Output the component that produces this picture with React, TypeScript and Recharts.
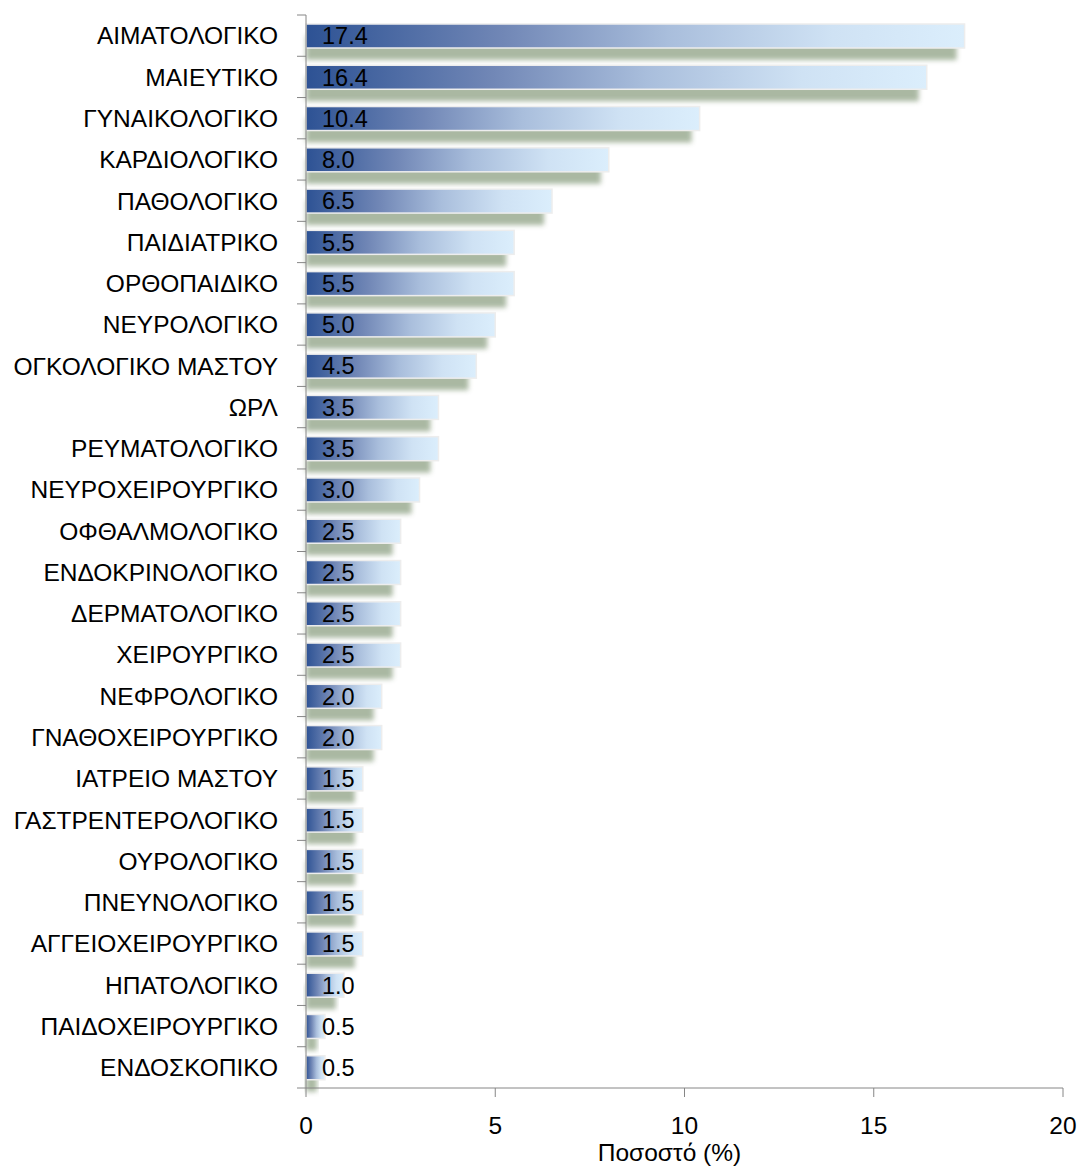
import { BarChart, Bar, XAxis, YAxis, LabelList } from "recharts";

const categories = [
  "ΑΙΜΑΤΟΛΟΓΙΚΟ",
  "ΜΑΙΕΥΤΙΚΟ",
  "ΓΥΝΑΙΚΟΛΟΓΙΚΟ",
  "ΚΑΡΔΙΟΛΟΓΙΚΟ",
  "ΠΑΘΟΛΟΓΙΚΟ",
  "ΠΑΙΔΙΑΤΡΙΚΟ",
  "ΟΡΘΟΠΑΙΔΙΚΟ",
  "ΝΕΥΡΟΛΟΓΙΚΟ",
  "ΟΓΚΟΛΟΓΙΚΟ ΜΑΣΤΟΥ",
  "ΩΡΛ",
  "ΡΕΥΜΑΤΟΛΟΓΙΚΟ",
  "ΝΕΥΡΟΧΕΙΡΟΥΡΓΙΚΟ",
  "ΟΦΘΑΛΜΟΛΟΓΙΚΟ",
  "ΕΝΔΟΚΡΙΝΟΛΟΓΙΚΟ",
  "ΔΕΡΜΑΤΟΛΟΓΙΚΟ",
  "ΧΕΙΡΟΥΡΓΙΚΟ",
  "ΝΕΦΡΟΛΟΓΙΚΟ",
  "ΓΝΑΘΟΧΕΙΡΟΥΡΓΙΚΟ",
  "ΙΑΤΡΕΙΟ ΜΑΣΤΟΥ",
  "ΓΑΣΤΡΕΝΤΕΡΟΛΟΓΙΚΟ",
  "ΟΥΡΟΛΟΓΙΚΟ",
  "ΠΝΕΥΝΟΛΟΓΙΚΟ",
  "ΑΓΓΕΙΟΧΕΙΡΟΥΡΓΙΚΟ",
  "ΗΠΑΤΟΛΟΓΙΚΟ",
  "ΠΑΙΔΟΧΕΙΡΟΥΡΓΙΚΟ",
  "ΕΝΔΟΣΚΟΠΙΚΟ",
];

const percentages = [
  17.4, 16.4, 10.4, 8.0, 6.5, 5.5, 5.5, 5.0, 4.5, 3.5, 3.5, 3.0, 2.5, 2.5,
  2.5, 2.5, 2.0, 2.0, 1.5, 1.5, 1.5, 1.5, 1.5, 1.0, 0.5, 0.5,
];

const xTicks = [0, 5, 10, 15, 20];

const data = categories.map((name, i) => ({ name, value: percentages[i] }));

const W = 1082;
const H = 1173;
const MARGIN = { top: 15, right: 19, left: 0, bottom: 0 };
const X_AXIS_H = 85;
const Y_AXIS_W = 306;
const FONT = "'Liberation Sans', Arial, sans-serif";
const FS = 23.5;
const CAT_FS = 24.5;
const AXIS_COLOR = "#868686";

const band = (H - MARGIN.top - MARGIN.bottom - X_AXIS_H) / categories.length;

function CategoryTick(props: any) {
  const { x, y, payload, index } = props;
  const lx = x + 19;
  return (
    <g>
      <line x1={lx} x2={lx + 9} y1={y - band / 2} y2={y - band / 2} stroke={AXIS_COLOR} />
      {index === categories.length - 1 && (
        <line x1={lx} x2={lx + 9} y1={y + band / 2} y2={y + band / 2} stroke={AXIS_COLOR} />
      )}
      <text
        x={x}
        y={y}
        dy="0.36em"
        textAnchor="end"
        fontSize={CAT_FS}
        fontFamily={FONT}
        fill="#000"
      >
        {payload.value}
      </text>
    </g>
  );
}

function GradientBar(props: any) {
  const { x, y, width, height } = props;
  if (!width || width <= 0) return null;
  return (
    <g>
      <rect
        x={x}
        y={y + 11}
        width={Math.max(width - 8, 0)}
        height={height + 1}
        fill="#a6b59e"
        opacity={0.95}
        filter="url(#barShadow)"
      />
      <rect
        x={x}
        y={y}
        width={width}
        height={height}
        fill="url(#barGrad)"
        stroke="#ededed"
        strokeWidth={1.5}
      />
    </g>
  );
}

export default function App() {
  return (
    <div style={{ position: "absolute", left: 0, top: 0, background: "#fff" }}>
      <BarChart
        width={W}
        height={H}
        data={data}
        layout="vertical"
        margin={MARGIN}
        barSize={24}
      >
        <defs>
          <linearGradient id="barGrad" x1="0" y1="0" x2="1" y2="0">
            <stop offset="0" stopColor="#2d5294" />
            <stop offset="0.3" stopColor="#7187b6" />
            <stop offset="0.55" stopColor="#a9bedc" />
            <stop offset="0.8" stopColor="#cfe2f4" />
            <stop offset="1" stopColor="#dbeefc" />
          </linearGradient>
          <filter id="barShadow" x="-10%" y="-60%" width="120%" height="220%">
            <feGaussianBlur stdDeviation="2.4" />
          </filter>
        </defs>
        <XAxis
          type="number"
          domain={[0, 20]}
          ticks={xTicks}
          height={X_AXIS_H}
          tickSize={9}
          tickMargin={20}
          stroke={AXIS_COLOR}
          tick={{ fill: "#000", fontSize: CAT_FS, fontFamily: FONT }}
          label={{
            value: "Ποσοστό (%)",
            position: "insideBottom",
            offset: 12,
            dx: -15,
            fill: "#000",
            fontSize: CAT_FS,
            fontFamily: FONT,
          }}
        />
        <YAxis
          type="category"
          dataKey="name"
          width={Y_AXIS_W}
          tickSize={9}
          tickMargin={19}
          tickLine={false}
          stroke={AXIS_COLOR}
          interval={0}
          tick={<CategoryTick />}
        />
        <Bar dataKey="value" shape={<GradientBar />} isAnimationActive={false}>
          <LabelList
            dataKey="value"
            position="insideLeft"
            offset={16}
            formatter={(v: any) => Number(v).toFixed(1)}
            fill="#000"
            fontSize={FS}
            fontFamily={FONT}
          />
        </Bar>
      </BarChart>
    </div>
  );
}
